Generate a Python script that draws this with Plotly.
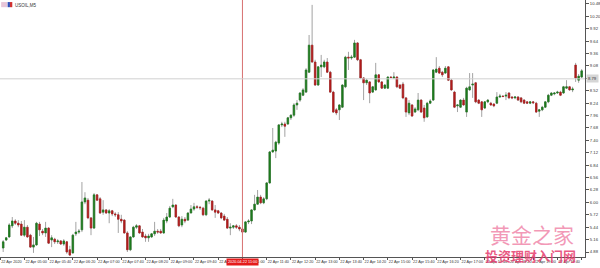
import plotly.graph_objects as go

# ---- data (USOIL, M5) ----
open_ = [4.97,5.15,5.22,5.47,5.58,5.53,5.51,5.26,5.44,5.26,4.99,5.04,5.51,5.35,5.31,5.42,5.15,5.17,5.11,5.13,
         5.06,5.11,4.93,4.86,5.29,5.33,5.38,6.01,6.05,5.65,5.42,6.17,6.08,5.78,5.83,5.76,5.81,5.74,5.72,5.62,
         5.60,5.31,4.93,5.22,5.44,5.47,5.33,5.24,5.20,5.22,5.29,5.35,5.35,5.31,5.58,5.67,5.90,5.94,5.67,5.49,
         5.62,5.60,5.76,5.85,5.90,5.89,5.87,5.72,6.03,6.03,5.83,5.81,5.76,5.69,5.62,5.42,5.44,5.47,5.44,5.40,
         5.33,5.56,5.58,5.83,5.96,6.12,5.99,6.08,6.44,7.14,7.16,7.34,7.75,7.77,7.77,7.91,7.97,8.20,8.31,8.42,
         8.49,8.94,9.55,9.17,8.65,9.06,9.06,9.17,8.94,8.49,8.09,8.09,8.15,8.61,9.28,9.26,9.28,9.60,9.22,8.81,
         8.70,8.72,8.49,8.54,8.88,8.72,8.58,8.58,8.83,8.81,8.83,8.65,8.67,8.36,8.02,8.20,8.04,8.09,8.31,8.13,
         7.93,8.24,8.31,8.94,9.03,8.94,8.92,9.06,8.76,8.49,8.18,8.15,8.31,8.04,8.54,8.65,8.70,8.31,8.27,8.13,
         8.27,8.24,8.22,8.24,8.38,8.40,8.40,8.47,8.38,8.36,8.38,8.36,8.31,8.27,8.24,8.27,8.24,8.06,8.09,8.15,
         8.27,8.42,8.45,8.47,8.49,8.47,8.58,8.61,8.54,9.10,8.76,8.83]
high = [5.15,5.22,5.53,5.67,5.62,5.60,5.58,5.60,5.49,5.29,5.22,5.56,5.56,5.40,5.56,5.44,5.26,5.20,5.17,5.15,
        5.17,5.13,5.02,5.29,5.56,5.40,6.46,6.23,6.10,5.67,6.21,6.19,6.12,6.05,5.85,5.85,5.83,5.78,5.78,5.72,
        5.62,5.35,5.24,5.47,5.51,5.49,5.40,5.29,5.29,5.31,5.56,5.40,5.40,5.65,5.76,5.92,6.08,5.96,5.69,5.69,
        5.67,5.78,5.94,5.99,5.94,5.92,5.90,6.05,6.10,6.05,5.94,5.83,5.78,5.74,5.67,5.53,5.49,5.51,5.49,5.44,
        5.58,5.62,5.85,6.17,6.28,6.17,6.12,6.46,7.16,7.68,7.39,7.77,7.82,7.82,7.93,7.99,8.24,8.31,8.49,8.58,
        9.03,9.78,10.46,9.22,9.08,9.33,9.22,9.26,8.97,8.52,8.13,8.22,8.67,9.31,9.40,9.33,9.67,9.62,9.24,8.83,
        8.79,8.74,8.63,9.15,8.90,8.74,8.67,8.85,8.85,8.94,8.85,8.67,8.72,8.38,8.31,8.22,8.15,8.47,8.33,8.20,
        8.27,8.33,9.01,9.28,9.08,8.97,9.08,9.08,8.79,8.52,8.22,8.33,8.36,8.61,8.92,8.92,8.72,8.33,8.29,8.29,
        8.33,8.27,8.24,8.49,8.45,8.42,8.49,8.49,8.40,8.40,8.40,8.38,8.33,8.29,8.29,8.29,8.27,8.11,8.18,8.29,
        8.45,8.49,8.49,8.52,8.52,8.63,8.76,8.63,8.61,9.15,8.90,9.01]
low = [4.88,5.13,5.20,5.42,5.49,5.44,5.24,5.22,5.20,4.97,4.86,5.02,5.24,5.26,5.22,5.06,4.99,5.06,5.06,5.04,
       5.02,4.84,4.79,4.84,5.24,5.29,5.33,5.96,5.62,5.26,5.40,6.03,5.74,5.72,5.74,5.53,5.69,5.67,5.31,5.53,
       5.29,4.88,4.90,5.20,5.40,5.29,5.20,5.11,5.11,5.20,5.24,5.29,5.29,5.29,5.53,5.65,5.87,5.65,5.44,5.44,
       5.53,5.58,5.76,5.81,5.85,5.83,5.69,5.69,5.96,5.81,5.65,5.74,5.62,5.58,5.40,5.26,5.40,5.40,5.35,5.33,
       5.31,5.51,5.51,5.81,5.96,5.96,5.96,6.05,6.42,7.12,7.00,7.30,7.70,7.48,7.75,7.86,7.93,8.09,8.27,8.40,
       8.47,8.92,9.15,8.63,8.63,8.83,9.03,8.92,8.47,8.02,7.97,7.86,8.13,8.58,8.99,9.22,9.26,9.19,8.79,8.31,
       8.65,8.24,8.47,8.52,8.70,8.56,8.56,8.56,8.81,8.79,8.58,8.56,8.33,7.93,7.97,7.93,8.02,8.06,8.02,7.82,
       7.91,8.22,8.29,8.92,8.90,8.83,8.90,8.74,8.52,8.13,8.04,8.13,8.18,7.93,8.52,8.36,8.24,8.22,7.93,8.11,
       8.24,8.18,8.15,8.22,8.36,8.38,8.31,8.33,8.33,8.33,8.29,8.24,8.22,8.22,8.22,8.22,8.02,7.93,8.06,8.13,
       8.24,8.40,8.42,8.45,8.40,8.45,8.56,8.52,8.49,8.72,8.70,8.81]
close = [5.11,5.20,5.49,5.58,5.53,5.49,5.26,5.44,5.22,4.99,5.04,5.53,5.38,5.31,5.42,5.08,5.20,5.11,5.13,5.06,
         5.13,4.88,4.81,5.26,5.33,5.35,6.01,6.10,5.65,5.42,6.17,6.05,5.76,5.83,5.76,5.81,5.74,5.72,5.62,5.58,
         5.31,4.93,5.22,5.44,5.47,5.31,5.22,5.20,5.24,5.29,5.35,5.33,5.31,5.60,5.67,5.87,5.94,5.67,5.47,5.62,
         5.58,5.76,5.85,5.90,5.89,5.88,5.72,6.03,6.05,5.83,5.78,5.76,5.65,5.60,5.42,5.44,5.47,5.44,5.40,5.33,
         5.56,5.58,5.83,5.96,6.12,5.99,6.08,6.44,7.14,7.18,7.36,7.75,7.77,7.72,7.91,7.97,8.20,8.24,8.47,8.54,
         8.99,9.55,9.17,8.65,9.06,9.10,9.17,8.94,8.49,8.04,8.02,8.20,8.65,9.28,9.26,9.28,9.60,9.22,8.81,8.70,
         8.76,8.47,8.61,8.88,8.72,8.58,8.65,8.83,8.82,8.83,8.61,8.58,8.36,8.04,8.24,7.95,8.11,8.31,8.04,7.91,
         8.24,8.29,8.99,9.01,8.92,8.88,9.03,8.76,8.54,8.15,8.20,8.31,8.20,8.58,8.61,8.67,8.27,8.24,8.09,8.27,
         8.31,8.20,8.18,8.38,8.40,8.39,8.42,8.36,8.36,8.38,8.31,8.27,8.24,8.24,8.27,8.25,8.04,8.09,8.15,8.27,
         8.42,8.47,8.47,8.49,8.42,8.61,8.61,8.54,8.56,8.81,8.85,8.97]

price_ticks = [10.48, 10.20, 9.92, 9.64, 9.36, 9.08, 8.80, 8.52, 8.24, 7.96, 7.68, 7.40,
               7.12, 6.84, 6.56, 6.28, 6.00, 5.72, 5.44, 5.16, 4.88]
time_labels = ["22 Apr 2020", "22 Apr 05:00", "22 Apr 05:40", "22 Apr 06:20", "22 Apr 07:00",
               "22 Apr 07:40", "22 Apr 08:20", "22 Apr 09:00", "22 Apr 09:40", "22 Apr 10:20",
               "22 Apr 11:00", "22 Apr 11:40", "22 Apr 12:20", "22 Apr 13:00", "22 Apr 13:40",
               "22 Apr 14:20", "22 Apr 15:00", "22 Apr 15:40", "22 Apr 16:20", "22 Apr 17:00",
               "22 Apr 17:40", "22 Apr 18:20", "22 Apr 19:00", "22 Apr 19:40", "22 Apr 20:20"]
label_bars = [-1 + 8 * k for k in range(len(time_labels))]
cross_bar = 79
cross_price = 8.79
cross_time = "2020.04.22 11:00"
symbol = "USOIL,M5"

n = min(len(open_), len(high), len(low), len(close))
o, h, l, c = open_[:n], high[:n], low[:n], close[:n]
h = [max(a, b, d) for a, b, d in zip(h, o, c)]
l = [min(a, b, d) for a, b, d in zip(l, o, c)]
x = list(range(n))

GREEN = "#1d7a1d"
RED = "#b01b1b"
WICK = "#a3a3a3"
FONT = "Liberation Sans"

fig = go.Figure()
fig.add_trace(go.Candlestick(
    x=x, open=o, high=h, low=l, close=c,
    increasing=dict(line=dict(color=WICK, width=1), fillcolor=WICK),
    decreasing=dict(line=dict(color=WICK, width=1), fillcolor=WICK),
    hoverinfo="skip", showlegend=False))
fig.add_trace(go.Candlestick(
    x=x, open=o, close=c,
    high=[max(a, b) for a, b in zip(o, c)], low=[min(a, b) for a, b in zip(o, c)],
    increasing=dict(line=dict(color=GREEN, width=0.6), fillcolor=GREEN),
    decreasing=dict(line=dict(color=RED, width=0.6), fillcolor=RED),
    hoverinfo="skip", showlegend=False))

# crosshair
fig.add_shape(type="line", xref="x", yref="paper", x0=cross_bar, x1=cross_bar, y0=0, y1=1,
              line=dict(color="#d77070", width=1))
fig.add_shape(type="line", xref="paper", yref="y", x0=0, x1=1, y0=cross_price, y1=cross_price,
              line=dict(color="#d0d0d0", width=1))

fig.add_annotation(x=cross_bar, y=0, xref="x", yref="paper", yanchor="top", xanchor="center",
                   yshift=-1, text=cross_time, showarrow=False, bgcolor="#e41b1b", borderpad=1,
                   font=dict(family=FONT, size=3.8, color="white"))
fig.add_annotation(x=1, y=cross_price, xref="paper", yref="y", xanchor="left", xshift=1,
                   text=f"{cross_price:.2f}", showarrow=False, bgcolor="#d6d6d6", borderpad=1,
                   font=dict(family=FONT, size=4.2, color="#333"))

# symbol title and icon
fig.add_shape(type="rect", xref="paper", yref="paper", x0=0.002, x1=0.012, y0=0.972, y1=0.992,
              fillcolor="#e8c6d8", line=dict(width=0))
fig.add_shape(type="rect", xref="paper", yref="paper", x0=0.013, x1=0.017, y0=0.972, y1=0.992,
              fillcolor="#3050b8", line=dict(width=0))
fig.add_shape(type="rect", xref="paper", yref="paper", x0=0.017, x1=0.021, y0=0.972, y1=0.992,
              fillcolor="#d03030", line=dict(width=0))
fig.add_annotation(x=0.023, y=0.997, xref="paper", yref="paper", xanchor="left", yanchor="top",
                   text=symbol, showarrow=False, font=dict(family=FONT, size=4.5, color="#333"))

# watermark
fig.add_annotation(x=0.909, y=0.09, xref="paper", yref="paper", xanchor="center", yanchor="middle",
                   text="黄金之家", showarrow=False,
                   font=dict(family="Noto Sans CJK SC", size=21, color="rgba(238,120,160,0.75)"))
fig.add_annotation(x=0.906, y=0.004, xref="paper", yref="paper", xanchor="center", yanchor="middle",
                   text="<b>投资理财入门网</b>", showarrow=False,
                   font=dict(family="Noto Sans CJK SC", size=13, color="rgba(230,60,110,0.85)"))

ytext = ["" if abs(v - cross_price) < 0.1 else f"{v:.2f}" for v in price_ticks]

fig.update_layout(
    width=600, height=268, margin=dict(l=0, r=15, t=0, b=11),
    paper_bgcolor="white", plot_bgcolor="white", hovermode=False,
    xaxis=dict(range=[-1.05, 192.1], rangeslider=dict(visible=False), showgrid=False,
               zeroline=False, showline=True, linecolor="#555", linewidth=1,
               tickmode="array", tickvals=label_bars, ticktext=time_labels, tickangle=0,
               ticks="outside", ticklen=2, tickcolor="#555", ticklabelposition="outside right",
               tickfont=dict(family=FONT, size=3.8, color="#333")),
    yaxis=dict(range=[4.767, 10.57], side="right", showgrid=False, zeroline=False,
               showline=True, linecolor="#555", linewidth=1,
               tickmode="array", tickvals=price_ticks, ticktext=ytext,
               ticks="outside", ticklen=3, tickcolor="#555",
               tickfont=dict(family=FONT, size=4.2, color="#333")),
)

fig.write_html("out.html", config={"displayModeBar": False, "staticPlot": True})
